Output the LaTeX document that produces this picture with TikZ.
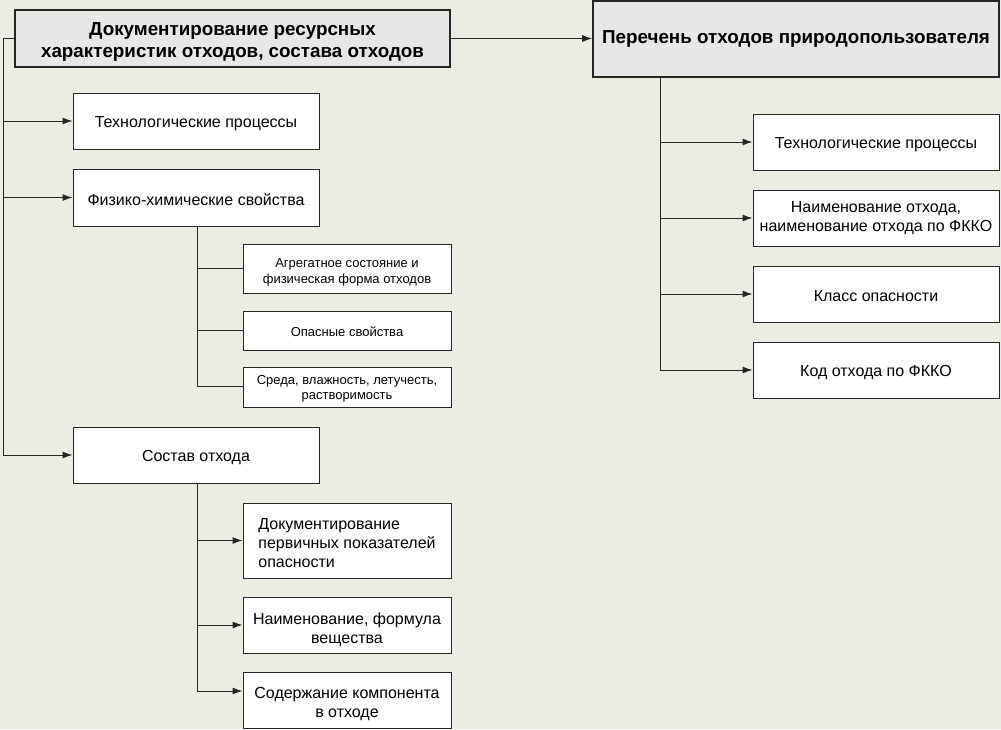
\documentclass[tikz,border=0pt]{standalone}
\usepackage{fontspec}
\setmainfont{Liberation Sans}
\usetikzlibrary{arrows.meta,calc}

\definecolor{bgcol}{HTML}{ECECE3}
\definecolor{headcol}{HTML}{E7E7E6}
\definecolor{linecol}{HTML}{252525}

\newcommand\liftby[1]{\rule{0pt}{#1}}

\tikzset{
  headbox/.style={rectangle, draw=linecol, line width=1.6pt, fill=headcol, align=center, inner sep=2pt, font=\fontsize{18.8}{22}\selectfont\bfseries},
  itembox/.style={rectangle, draw=linecol, line width=1pt, fill=white, align=center, inner sep=2pt, font=\fontsize{16}{19.5}\selectfont, execute at begin node=\rule{0pt}{1em}},
  smallbox/.style={itembox, font=\fontsize{13}{15.5}\selectfont},
  bigbox/.style={itembox, font=\fontsize{16}{19}\selectfont},
  link/.style={draw=linecol, line width=1pt},
  arr/.style={link, -{Latex[length=10pt,width=7pt]}}
}

\begin{document}
\begin{tikzpicture}[x=1pt, y=-1pt]
\fill[bgcol] (0,0) rectangle (1001,729);

\node[headbox, minimum width=435pt, minimum height=57pt] (doc) at (232.5,38.5) {\liftby{1.05em}Документирование ресурсных\\характеристик отходов, состава отходов};
\node[headbox, minimum width=406pt, minimum height=76pt] (list) at (796,39) {Перечень отходов природопользователя};

\node[itembox, minimum width=246pt, minimum height=56pt] (tech) at (196,121) {Технологические процессы};
\node[itembox, minimum width=246pt, minimum height=57pt] (phys) at (196,197.5) {Физико-химические свойства};
\node[itembox, minimum width=246pt, minimum height=56pt] (comp) at (196,455) {Состав отхода};

\node[smallbox, minimum width=208pt, minimum height=49pt] (agg) at (347,268.5) {\liftby{1.3em}Агрегатное состояние и\\физическая форма отходов};
\node[smallbox, minimum width=208pt, minimum height=39pt] (haz) at (347,330.5) {Опасные свойства};
\node[smallbox, minimum width=208pt, minimum height=40pt] (env) at (347,387) {\liftby{1em}Среда, влажность, летучесть,\\растворимость};

\node[bigbox, minimum width=208pt, minimum height=75pt, align=left] (prim) at (347,540.5) {\liftby{1.05em}Документирование\\первичных показателей\\опасности};
\node[bigbox, minimum width=208pt, minimum height=56pt] (form) at (347,625) {\liftby{1.35em}Наименование, формула\\вещества};
\node[bigbox, minimum width=208pt, minimum height=56pt] (cont) at (347,700) {\liftby{1.25em}Содержание компонента\\в отходе};

\node[itembox, minimum width=246pt, minimum height=56pt] (rtech) at (876,142) {Технологические процессы};
\node[itembox, minimum width=246pt, minimum height=56pt] (rname) at (876,218) {Наименование отхода,\\наименование отхода по ФККО};
\node[itembox, minimum width=246pt, minimum height=56pt] (rclass) at (876,294) {Класс опасности};
\node[itembox, minimum width=246pt, minimum height=56pt] (rcode) at (876,370) {Код отхода по ФККО};

\coordinate (lt) at (3,38.5);
\coordinate (pt) at (197,386);
\coordinate (st) at (197,691);
\coordinate (rt) at (660,370);

\draw[arr] (doc.east) -- (list.west |- doc.east);

\draw[link] (doc.west) -- (lt) -- (lt |- comp.west);
\foreach \n in {tech,phys,comp}
  \draw[arr] (lt |- \n.west) -- (\n.west);

\draw[link] (pt |- phys.south) -- (pt);
\foreach \n in {agg,haz}
  \draw[link] (pt |- \n.west) -- (\n.west);
\draw[link] (pt) -- (pt -| env.west);

\draw[link] (st |- comp.south) -- (st);
\foreach \n in {prim,form}
  \draw[arr] (st |- \n.west) -- (\n.west);
\draw[arr] (st) -- (st -| cont.west);

\draw[link] (rt |- list.south) -- (rt);
\foreach \n in {rtech,rname,rclass,rcode}
  \draw[arr] (rt |- \n.west) -- (\n.west);
\end{tikzpicture}
\end{document}
